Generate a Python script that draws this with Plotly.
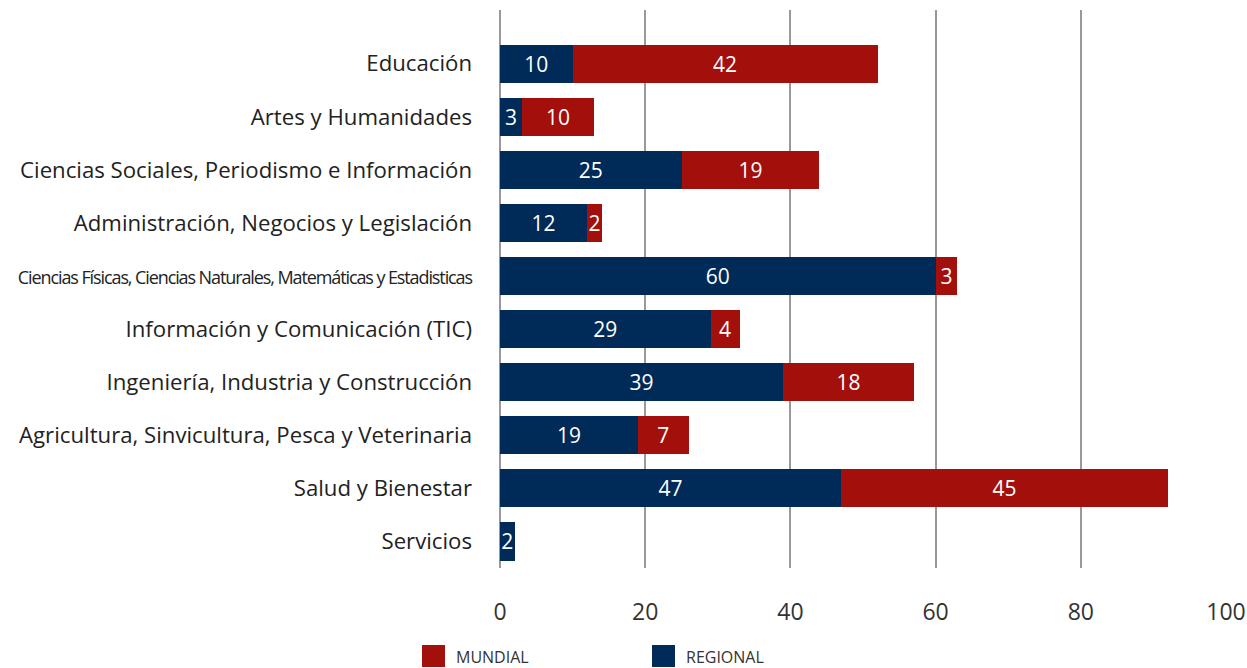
import plotly.graph_objects as go

categories = [
    "Educación",
    "Artes y Humanidades",
    "Ciencias Sociales, Periodismo e Información",
    "Administración, Negocios y Legislación",
    "Ciencias Físicas, Ciencias Naturales, Matemáticas y Estadisticas",
    "Información y Comunicación (TIC)",
    "Ingeniería, Industria y Construcción",
    "Agricultura, Sinvicultura, Pesca y Veterinaria",
    "Salud y Bienestar",
    "Servicios",
]
regional = [10, 3, 25, 12, 60, 29, 39, 19, 47, 2]
mundial = [42, 10, 19, 2, 3, 4, 18, 7, 45, None]
x_ticks = [0, 20, 40, 60, 80, 100]
legend_names = ["MUNDIAL", "REGIONAL"]

BLUE = "#002a57"
RED = "#a30f0b"

tick_text = []
for c in categories:
    if c.startswith("Ciencias Físicas"):
        tick_text.append('<span style="font-size:18px;letter-spacing:-1.1px">' + c + "</span>")
    else:
        tick_text.append(c)

fig = go.Figure()
fig.add_trace(go.Bar(
    y=categories, x=regional, orientation="h", name="REGIONAL",
    marker=dict(color=BLUE, line=dict(width=0)),
    text=[str(v) for v in regional], textposition="inside",
    insidetextanchor="middle", constraintext="none",
    textfont=dict(color="white", size=21, family="Open Sans"),
    showlegend=False,
))
fig.add_trace(go.Bar(
    y=categories, x=mundial, orientation="h", name="MUNDIAL",
    marker=dict(color=RED, line=dict(width=0)),
    text=[str(v) if v is not None else "" for v in mundial], textposition="inside",
    insidetextanchor="middle", constraintext="none",
    textfont=dict(color="white", size=21, family="Open Sans"),
    showlegend=False,
))

# manual legend (large square swatches)
L, R, T, B = 500, 1226, 10, 568
W, H = R - L, B - T
def px(x):
    return (x - L) / W
def py(y):
    return (B - y) / H

shapes = []
annotations = []
for name, color, sx in [(legend_names[0], RED, 422), (legend_names[1], BLUE, 652)]:
    shapes.append(dict(type="rect", xref="paper", yref="paper",
                       x0=px(sx), x1=px(sx + 23), y0=py(667), y1=py(645),
                       fillcolor=color, line=dict(width=0)))
    annotations.append(dict(xref="paper", yref="paper", x=px(sx + 32), y=py(657),
                            xanchor="left", yanchor="middle", showarrow=False,
                            text=name, font=dict(size=16, color="#333", family="Open Sans")))

fig.update_layout(
    barmode="stack",
    bargap=0.28,
    width=1247, height=668,
    margin=dict(l=500, r=21, t=10, b=100, autoexpand=False),
    paper_bgcolor="white", plot_bgcolor="white",
    font=dict(family="Open Sans", color="#222"),
    uniformtext=dict(mode="show", minsize=21),
    showlegend=False,
    shapes=shapes,
    annotations=annotations,
    xaxis=dict(
        range=[0, 100], tickvals=x_ticks, ticktext=[str(t) for t in x_ticks],
        showgrid=True, gridcolor="#999", gridwidth=2,
        zeroline=True, zerolinecolor="#999", zerolinewidth=2,
        showline=False, tickfont=dict(size=23, color="#333"),
        ticks="", ticklabelstandoff=28, fixedrange=True, automargin=False,
    ),
    yaxis=dict(
        categoryorder="array", categoryarray=categories,
        range=[9.5, -1.01],
        tickvals=categories, ticktext=tick_text,
        tickfont=dict(size=22.2, color="#222"),
        ticks="", ticklabelstandoff=27, showgrid=False, showline=False,
        automargin=False,
    ),
)

fig.write_html(
    "out.html",
    config={"displayModeBar": False},
    post_script="document.body.style.margin='0';document.body.style.padding='0';document.documentElement.style.overflow='hidden';",
)
